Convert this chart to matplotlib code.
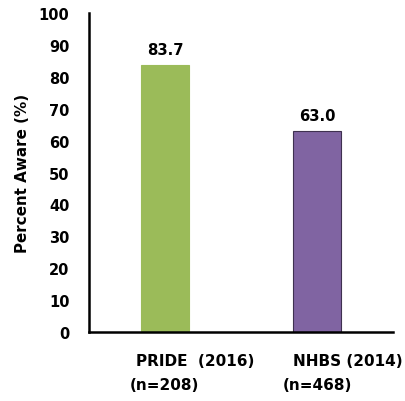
import matplotlib.pyplot as plt

# survey results
surveys = ["PRIDE  (2016)", "NHBS (2014)"]
sample_sizes = ["(n=208)", "(n=468)"]
percent_aware = [83.7, 63.0]
bar_colors = ["#9BBB59", "#8064A2"]
edge_colors = ["#9BBB59", "#3F3150"]

plt.rcParams["font.family"] = ["DejaVu Sans"]
plt.rcParams["font.weight"] = "bold"

fig = plt.figure(figsize=(4.06, 4.02), dpi=100)
ax = fig.add_axes([0.219, 0.1716, 0.749, 0.7934])

x = range(len(surveys))
ax.bar(x, percent_aware, width=0.32, color=bar_colors,
       edgecolor=edge_colors, linewidth=0.8)

for xi, v in zip(x, percent_aware):
    ax.text(xi, v + 2.5, f"{v:.1f}", ha="center", va="bottom",
            fontsize=10.7, fontweight="bold")

ax.set_xlim(-0.5, 1.5)
ax.set_ylim(0, 100)
ax.set_yticks(range(0, 101, 10))
ax.tick_params(axis="y", length=0, pad=14, labelsize=10.5)
ax.set_yticklabels([str(t) for t in range(0, 101, 10)], fontweight="bold")

# two-line category labels under the bars
ax.set_xticks(list(x))
ax.set_xticklabels([])
ax.tick_params(axis="x", length=0)
xt = ax.get_xaxis_transform()
for xi, name, n in zip(x, surveys, sample_sizes):
    ax.text(xi + 0.2, -0.088, name, transform=xt,
            ha="center", va="center", fontsize=11, fontweight="bold")
    ax.text(xi, -0.163, n, transform=xt,
            ha="center", va="center", fontsize=11, fontweight="bold")

ax.set_ylabel("Percent Aware (%)", fontsize=10.9, fontweight="bold")
ax.yaxis.set_label_coords(-0.195, 0.5)

for side in ["top", "right"]:
    ax.spines[side].set_visible(False)
for side in ["left", "bottom"]:
    ax.spines[side].set_linewidth(1.8)

fig.savefig("out.png", dpi=100)
